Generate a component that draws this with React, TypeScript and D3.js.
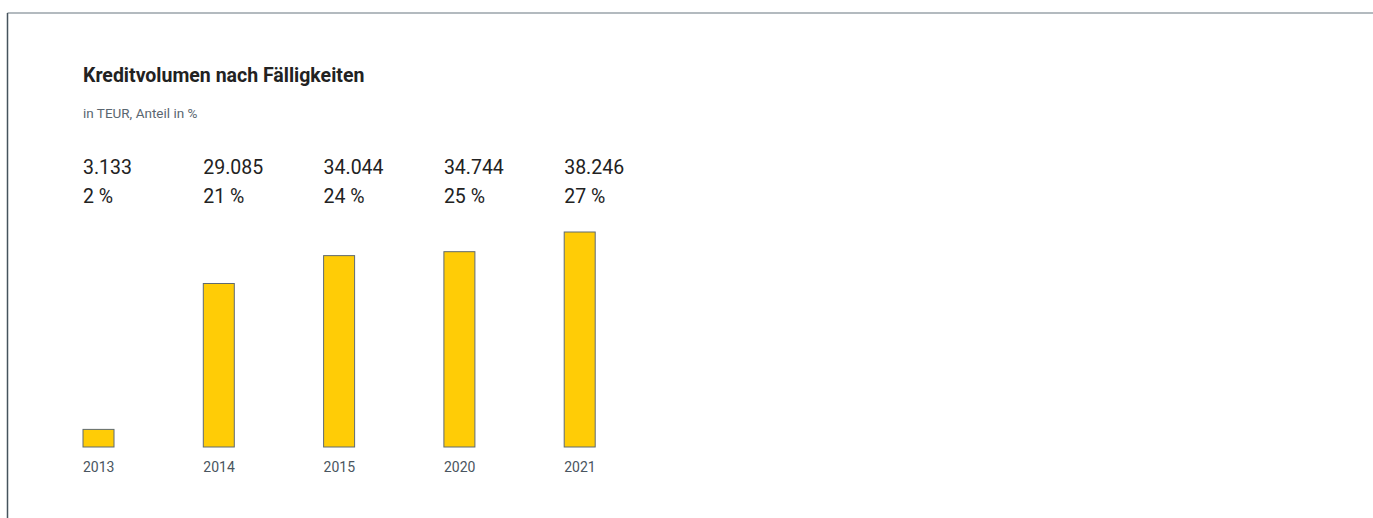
import React from "react";
import * as d3 from "d3";

const categories = ["2013", "2014", "2015", "2020", "2021"];
const values = [3133, 29085, 34044, 34744, 38246];
const shares = [2, 21, 24, 25, 27];

const W = 1373;
const H = 518;
const FONT = "Roboto, 'Noto Sans', sans-serif";

export default function App() {
  const step = 120.3;
  const x = d3
    .scalePoint<string>()
    .domain(categories)
    .range([83, 83 + step * (categories.length - 1)]);
  const bw = 31;
  const y = d3.scaleLinear().domain([0, 38246]).range([447, 232]);
  const fmt = (v: number) => d3.format(",")(v).replace(/,/g, ".");

  return (
    <svg
      width={W}
      height={H}
      style={{ position: "absolute", left: 0, top: 0, display: "block", background: "#fff" }}
    >
      <line x1={7.5} y1={13} x2={W} y2={13} stroke="#9aa3aa" strokeWidth={1.5} />
      <line x1={7.5} y1={13} x2={7.5} y2={H} stroke="#46535d" strokeWidth={1.5} />
      <text x={83} y={82} fontFamily={FONT} fontSize={19.5} fontWeight={700} fill="#222">
        Kreditvolumen nach Fälligkeiten
      </text>
      <text x={83} y={118} fontFamily={FONT} fontSize={13.5} fill="#5a6670">
        in TEUR, Anteil in %
      </text>
      {categories.map((c, i) => {
        const xi = x(c) as number;
        return (
          <g key={c}>
            <rect
              x={xi}
              y={y(values[i])}
              width={bw}
              height={y(0) - y(values[i])}
              fill="#ffcc06"
              stroke="#5f6a72"
              strokeWidth={1}
            />
            <text x={xi} y={174} fontFamily={FONT} fontSize={19.5} fill="#222">
              {fmt(values[i])}
            </text>
            <text x={xi} y={203} fontFamily={FONT} fontSize={19.5} fill="#222">
              {shares[i]} %
            </text>
            <text x={xi} y={472} fontFamily={FONT} fontSize={14} fill="#4a5560">
              {c}
            </text>
          </g>
        );
      })}
    </svg>
  );
}
